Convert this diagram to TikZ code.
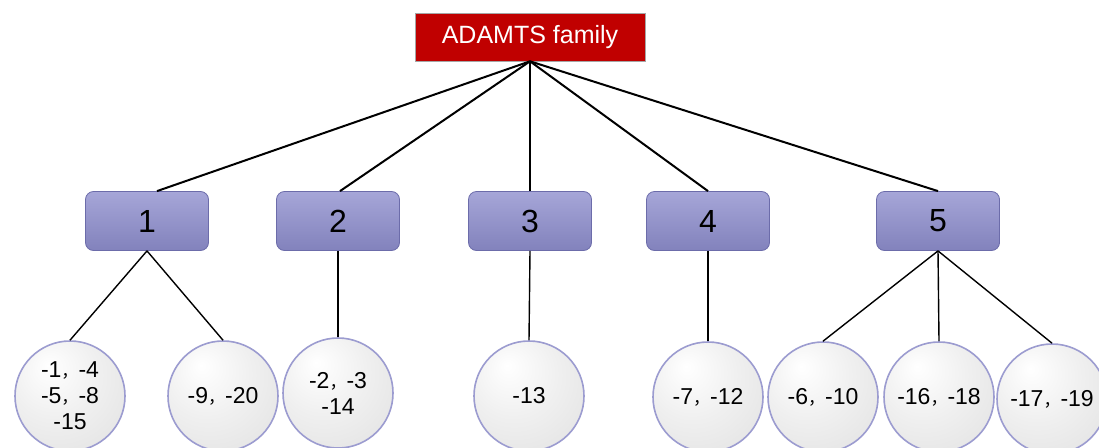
\documentclass[tikz,border=0pt]{standalone}
\usepackage{fontspec}
\setmainfont{Liberation Sans}
\newfontfamily\cjk{Noto Sans CJK SC}
% full-width comma, set a little smaller so its advance fits the gap
\newcommand\zc{{\cjk\fontsize{17}{17}\selectfont ，}}
\definecolor{titlered}{HTML}{C00000}
\definecolor{boxtop}{HTML}{A6A6D8}
\definecolor{boxbot}{HTML}{8282BC}
\definecolor{boxline}{HTML}{6C6CAA}
\definecolor{discline}{HTML}{9C9CD0}
\pgfdeclareradialshading{sphere}{\pgfpoint{-10bp}{14bp}}{%
  color(0bp)=(white); color(20bp)=(black!6); color(40bp)=(black!11);
  color(52bp)=(black!26); color(60bp)=(black!45); color(70bp)=(black!60)}
\tikzset{
  titlebox/.style={draw=black!35, line width=0.6pt, fill=titlered, text=white,
    minimum width=230pt, minimum height=48pt, inner sep=0pt, font=\fontsize{25}{29}\selectfont},
  groupbox/.style={draw=boxline, line width=0.8pt, rounded corners=8pt,
    top color=boxtop, bottom color=boxbot, minimum width=123pt, minimum height=59pt,
    inner sep=0pt, font=\fontsize{32}{36}\selectfont},
  memberdisc/.style={circle, draw=discline, line width=1.6pt, shading=sphere,
    minimum size=110pt, inner sep=0pt, align=center,
    font=\fontsize{23}{26}\selectfont},
  topline/.style={line width=2pt, black},
  subline/.style={line width=1.4pt, black}
}
\begin{document}
\begin{tikzpicture}[x=1pt,y=-1pt]
\useasboundingbox (0,0) rectangle (1099,447);
% root
\node[titlebox] (root) at (530,37) {ADAMTS family};
% groups
\node[groupbox] (g1) at (147,221) {1};
\node[groupbox] (g2) at (338,221) {2};
\node[groupbox] (g3) at (530,221) {3};
\node[groupbox] (g4) at (708,221) {4};
\node[groupbox] (g5) at (938,221) {5};
% members
\node[memberdisc] (m1) at (70,396) {-1\zc-4\\-5\zc-8\\-15};
\node[memberdisc] (m2) at (223,396) {-9\zc-20};
\node[memberdisc] (m3) at (338,393) {-2\zc-3\\-14};
\node[memberdisc] (m4) at (529,396) {-13};
\node[memberdisc] (m5) at (708,397) {-7\zc-12};
\node[memberdisc] (m6) at (823,397) {-6\zc-10};
\node[memberdisc] (m7) at (939,397) {-16\zc-18};
\node[memberdisc] (m8) at (1052,399) {-17\zc-19};
% root to groups
\draw[topline] (root.south) -- ([xshift=10pt]g1.north);
\draw[topline] (root.south) -- ([xshift=2pt]g2.north);
\draw[topline] (root.south) -- (g3.north);
\draw[topline] (root.south) -- (g4.north);
\draw[topline] (root.south) -- (g5.north);
% groups to members
\draw[subline] (g1.south) -- (m1.north);
\draw[subline] (g1.south) -- (m2.north);
\draw[subline] (g2.south) -- (m3.north);
\draw[subline] (g3.south) -- (m4.north);
\draw[subline] (g4.south) -- (m5.north);
\draw[subline] (g5.south) -- (m6.north);
\draw[subline] (g5.south) -- (m7.north);
\draw[subline] (g5.south) -- (m8.north);
\end{tikzpicture}
\end{document}
